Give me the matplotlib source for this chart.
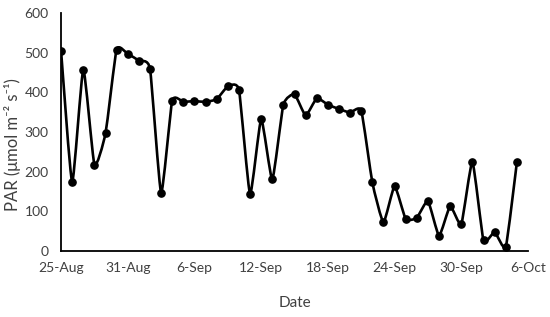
import numpy as np
import pandas as pd
import matplotlib
matplotlib.use("Agg")
import matplotlib.pyplot as plt
import matplotlib.dates as mdates
from matplotlib.path import Path
from matplotlib.patches import PathPatch

plt.rcParams['font.family'] = ['Lato', 'DejaVu Sans']

# Daily PAR readings, 25-Aug to 5-Oct
dates = pd.date_range('2023-08-25', periods=42, freq='D')
par = [505, 174, 457, 218, 297, 508, 497, 480, 459, 147,
       379, 376, 378, 376, 383, 415, 406, 144, 332, 181,
       369, 395, 342, 385, 369, 358, 349, 354, 173, 73,
       163, 81, 84, 126, 39, 113, 68, 224, 27, 48,
       11, 224]
tick_dates = pd.date_range('2023-08-25', '2023-10-06', freq='6D')
tick_labels = ['25-Aug', '31-Aug', '6-Sep', '12-Sep', '18-Sep', '24-Sep', '30-Sep', '6-Oct']

fig = plt.figure(figsize=(5.5, 3.17), dpi=100)
ax = fig.add_axes([0.111, 0.208, 0.849, 0.751])

# lightly smoothed line through the readings
x = mdates.date2num(dates)
y = np.array(par, dtype=float)
k = 1 / 12
verts = [(x[0], y[0])]
codes = [Path.MOVETO]
n = len(x)
for i in range(n - 1):
    x0, y0 = (x[i - 1], y[i - 1]) if i > 0 else (x[i], y[i])
    x3, y3 = (x[i + 2], y[i + 2]) if i + 2 < n else (x[i + 1], y[i + 1])
    c1 = (x[i] + (x[i + 1] - x0) * k, y[i] + (y[i + 1] - y0) * k)
    c2 = (x[i + 1] - (x3 - x[i]) * k, y[i + 1] - (y3 - y[i]) * k)
    verts += [c1, c2, (x[i + 1], y[i + 1])]
    codes += [Path.CURVE4] * 3
ax.add_patch(PathPatch(Path(verts, codes), facecolor='none', edgecolor='black',
                       lw=1.9, joinstyle='round', capstyle='round'))
ax.plot(dates, par, 'o', color='black', markersize=5.2)

ax.set_xlim(tick_dates[0], tick_dates[-1])
ax.set_ylim(0, 600)
ax.set_xticks(tick_dates)
ax.set_xticklabels(tick_labels)
ax.set_yticks(range(0, 601, 100))
ax.tick_params(length=0, labelsize=10, colors='#404040', pad=8)
ax.tick_params(axis='y', pad=9)
for s in ['top', 'right']:
    ax.spines[s].set_visible(False)
for s in ['left', 'bottom']:
    ax.spines[s].set_linewidth(1.3)
ax.set_xlabel('Date', fontsize=11, color='#404040', labelpad=16)
fig.text(13 / 550, 1 - 145 / 317, 'PAR (μmol m⁻² s⁻¹)', rotation=90, fontsize=12,
         color='#404040', ha='center', va='center')

fig.savefig('out.png', dpi=100)
